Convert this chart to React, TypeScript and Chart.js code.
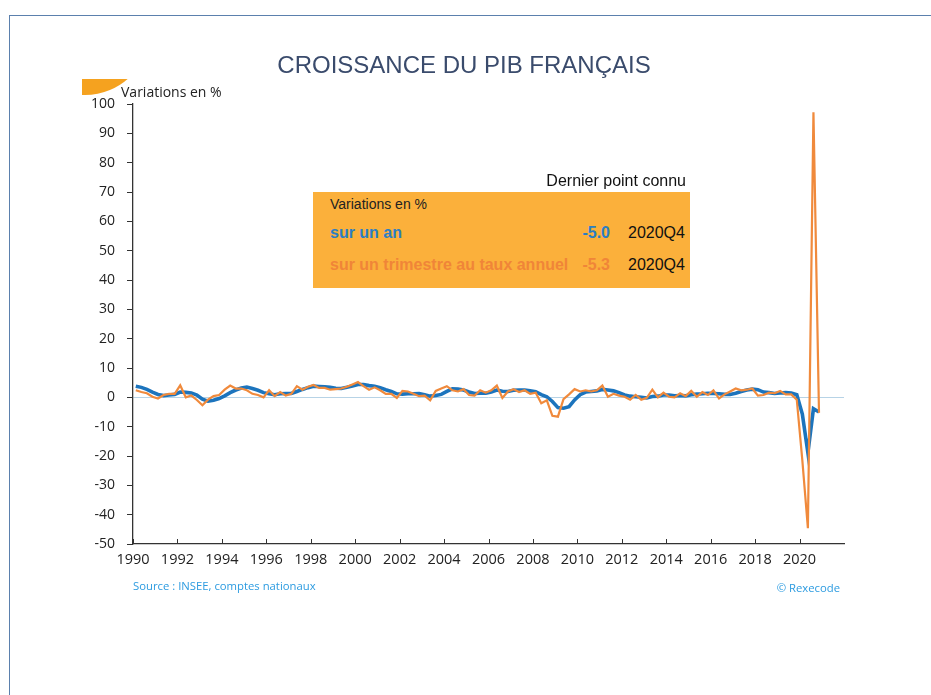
import { useEffect, useRef } from 'react';
import { Chart, registerables } from 'chart.js';

Chart.register(...registerables);

// Quarters 1990Q1 .. 2020Q4
const firstYear = 1990;
const lastYear = 2020;
const quarterLabels: string[] = [];
for (let y = firstYear; y <= lastYear; y++) {
  for (let q = 1; q <= 4; q++) quarterLabels.push(`${y}Q${q}`);
}

// Croissance sur un an (%)
const yoyGrowth = [
  3.8, 3.4, 2.7, 1.8, // 1990
  1.0, 0.6, 0.8, 1.0, // 1991
  1.8, 1.7, 1.5, 0.8, // 1992
  -0.6, -1.3, -1.0, -0.4, // 1993
  0.5, 1.6, 2.5, 3.2, // 1994
  3.5, 3.0, 2.4, 1.6, // 1995
  1.2, 0.9, 1.2, 1.3, // 1996
  1.3, 2.0, 2.7, 3.3, // 1997
  3.8, 3.7, 3.6, 3.4, // 1998
  3.1, 3.0, 3.4, 3.9, // 1999
  4.4, 4.4, 4.0, 3.8, // 2000
  3.3, 2.6, 2.0, 1.2, // 2001
  1.1, 1.2, 1.2, 1.3, // 2002
  0.9, 0.4, 0.6, 1.0, // 2003
  2.0, 2.9, 2.8, 2.5, // 2004
  1.8, 1.3, 1.4, 1.4, // 2005
  1.8, 2.5, 2.1, 2.0, // 2006
  2.4, 2.5, 2.5, 2.2, // 2007
  1.9, 0.9, 0.2, -1.4, // 2008
  -3.5, -3.7, -3.2, -0.9, // 2009
  0.9, 1.8, 2.0, 2.2, // 2010
  2.7, 2.5, 2.2, 1.6, // 2011
  0.8, 0.4, 0.2, 0.0, // 2012
  -0.2, 0.3, 0.4, 0.8, // 2013
  0.8, 0.5, 0.6, 0.5, // 2014
  0.9, 1.1, 1.2, 1.4, // 2015
  1.3, 1.2, 1.0, 1.0, // 2016
  1.4, 2.0, 2.5, 2.8, // 2017
  2.6, 1.8, 1.6, 1.3, // 2018
  1.5, 1.6, 1.5, 0.9, // 2019
  -5.7, -18.9, -3.9, -5.0, // 2020
];

// Croissance sur un trimestre au taux annuel (%)
const qoqAnnualized = [
  2.4, 1.8, 1.4, 0.2, // 1990
  -0.4, 0.8, 1.2, 1.2, // 1991
  4.1, 0.0, 0.6, -0.9, // 1992
  -2.7, -0.8, 0.4, 0.8, // 1993
  2.6, 4.0, 3.0, 3.0, // 1994
  2.4, 1.2, 0.8, 0.0, // 1995
  2.4, 0.4, 1.8, 0.6, // 1996
  1.2, 3.8, 2.6, 3.6, // 1997
  4.2, 3.2, 3.2, 2.6, // 1998
  2.8, 3.0, 3.6, 4.4, // 1999
  5.2, 3.8, 2.6, 3.4, // 2000
  2.4, 1.2, 1.2, -0.2, // 2001
  2.2, 2.0, 1.2, 0.4, // 2002
  0.6, -1.0, 2.2, 3.0, // 2003
  3.8, 2.4, 2.0, 2.8, // 2004
  0.8, 0.6, 2.4, 1.6, // 2005
  2.4, 4.0, -0.2, 2.0, // 2006
  2.8, 1.8, 2.4, 1.2, // 2007
  1.6, -2.0, -1.0, -6.3, // 2008
  -6.6, -0.6, 1.0, 2.8, // 2009
  2.0, 2.4, 2.0, 2.4, // 2010
  4.0, 0.2, 1.2, 0.6, // 2011
  0.2, -0.8, 0.8, -0.8, // 2012
  -0.2, 2.6, 0.0, 1.6, // 2013
  0.2, 0.0, 1.4, 0.4, // 2014
  2.2, 0.2, 1.8, 0.8, // 2015
  2.4, -0.4, 1.0, 2.0, // 2016
  3.0, 2.4, 2.6, 3.0, // 2017
  0.6, 0.8, 1.6, 1.4, // 2018
  2.2, 1.0, 1.0, -0.8, // 2019
  -21.5, -44.6, 97.2, -5.3, // 2020
];

const xTickYears = [1990, 1992, 1994, 1996, 1998, 2000, 2002, 2004, 2006, 2008, 2010, 2012, 2014, 2016, 2018, 2020];

// quarter label -> position on the time axis (middle of the quarter)
const quarterToX = (label: string) => {
  const [y, q] = label.split('Q').map(Number);
  return y + (q - 0.5) / 4;
};

const AXIS_FONT = '"Open Sans", "DejaVu Sans", sans-serif';
const TEXT_FONT = '"Liberation Sans", Arial, sans-serif';
const BLUE = '#1c74bd';
const ORANGE = '#f08a3c';

export default function App() {
  const canvasRef = useRef<HTMLCanvasElement>(null);

  useEffect(() => {
    const canvas = canvasRef.current;
    if (!canvas) return;

    const upTicks = {
      id: 'upTicks',
      afterDraw(chart: any) {
        const xs = chart.scales.x;
        const c = chart.ctx;
        c.save();
        c.strokeStyle = '#333';
        c.lineWidth = 1;
        xs.ticks.forEach((t: any) => {
          const px = Math.round(xs.getPixelForValue(t.value)) + 0.5;
          c.beginPath();
          c.moveTo(px, xs.top);
          c.lineTo(px, xs.top - 5);
          c.stroke();
        });
        c.restore();
      },
    };

    const chart = new Chart(canvas, {
      type: 'line',
      data: {
        datasets: [
          {
            label: 'sur un trimestre au taux annuel',
            data: quarterLabels.map((l, i) => ({ x: quarterToX(l), y: qoqAnnualized[i] })),
            borderColor: ORANGE,
            borderWidth: 2.2,
            pointRadius: 0,
            tension: 0,
          },
          {
            label: 'sur un an',
            data: quarterLabels.map((l, i) => ({ x: quarterToX(l), y: yoyGrowth[i] })),
            borderColor: BLUE,
            borderWidth: 3.6,
            pointRadius: 0,
            tension: 0,
          },
        ],
      },
      options: {
        responsive: false,
        animation: false,
        events: [],
        layout: { padding: { left: 0, right: 931 - 844, top: 104, bottom: 0 } },
        plugins: {
          legend: { display: false },
          tooltip: { enabled: false },
          title: { display: false },
        },
        scales: {
          x: {
            type: 'linear',
            min: 1990,
            max: 2022,
            afterBuildTicks: (s: any) => {
              s.ticks = xTickYears.map((v) => ({ value: v }));
            },
            afterFit: (s: any) => {
              s.height = 695 - 544;
            },
            grid: { drawOnChartArea: false, drawTicks: false },
            border: { color: '#333', width: 1.3 },
            ticks: {
              padding: 7,
              color: '#222',
              font: { family: AXIS_FONT, size: 14.5 },
              maxRotation: 0,
              autoSkip: false,
              callback: (v: any) => String(v),
            },
          },
          y: {
            min: -50,
            max: 100,
            afterFit: (s: any) => {
              s.width = 133;
            },
            grid: {
              color: (ctx: any) => (ctx.tick && ctx.tick.value === 0 ? '#b7d3e6' : 'rgba(0,0,0,0)'),
              tickColor: '#333',
              tickLength: 6,
              lineWidth: 1,
            },
            border: { color: '#333', width: 1.3 },
            ticks: {
              stepSize: 10,
              padding: 12,
              color: '#222',
              font: { family: AXIS_FONT, size: 14 },
              callback: (v: any) => String(v),
            },
          },
        },
      },
      plugins: [upTicks],
    });

    return () => chart.destroy();
  }, []);

  const abs = (s: React.CSSProperties): React.CSSProperties => ({ position: 'absolute', lineHeight: 1, whiteSpace: 'nowrap', ...s });

  return (
    <div style={{ position: 'fixed', left: 0, top: 0, width: 931, height: 695, background: '#fff', overflow: 'hidden' }}>
      <div style={{ position: 'absolute', left: 9, top: 15, right: 0, height: 0, borderTop: '1.5px solid #5b80ad' }} />
      <div style={{ position: 'absolute', left: 9, top: 15, bottom: 0, width: 0, borderLeft: '1.5px solid #5b80ad' }} />

      <div style={{ position: 'absolute', left: 82, top: 79, width: 46, height: 16, overflow: 'hidden' }}>
        <div style={{ position: 'absolute', left: -62, top: -114, width: 130, height: 130, borderRadius: '50%', background: '#f5a21f' }} />
      </div>

      <canvas ref={canvasRef} width={931} height={695} style={{ position: 'absolute', left: 0, top: 0, width: 931, height: 695 }} />

      <div style={abs({ left: 0, width: 928, top: 53, textAlign: 'center', fontFamily: TEXT_FONT, fontSize: 24, color: '#3a4b6c' })}>
        CROISSANCE DU PIB FRANÇAIS
      </div>

      <div style={abs({ left: 121, top: 85, fontFamily: AXIS_FONT, fontSize: 14, color: '#222' })}>Variations en %</div>

      <div style={abs({ left: 480, width: 206, top: 173, textAlign: 'right', fontFamily: TEXT_FONT, fontSize: 16, color: '#111' })}>
        Dernier point connu
      </div>
      <div style={{ position: 'absolute', left: 313, top: 192, width: 377, height: 96, background: '#fbb03b' }} />
      <div style={abs({ left: 330, top: 197, fontFamily: TEXT_FONT, fontSize: 14, color: '#222' })}>Variations en %</div>
      <div style={abs({ left: 330, top: 225, fontFamily: TEXT_FONT, fontSize: 16, fontWeight: 'bold', color: '#2a7ec4' })}>sur un an</div>
      <div style={abs({ left: 540, width: 70, top: 225, textAlign: 'right', fontFamily: TEXT_FONT, fontSize: 16, fontWeight: 'bold', color: '#2a7ec4' })}>-5.0</div>
      <div style={abs({ left: 628, top: 225, fontFamily: TEXT_FONT, fontSize: 16, color: '#111' })}>2020Q4</div>
      <div style={abs({ left: 330, top: 257, fontFamily: TEXT_FONT, fontSize: 16, fontWeight: 'bold', color: '#f08538' })}>
        sur un trimestre au taux annuel
      </div>
      <div style={abs({ left: 540, width: 70, top: 257, textAlign: 'right', fontFamily: TEXT_FONT, fontSize: 16, fontWeight: 'bold', color: '#f08538' })}>-5.3</div>
      <div style={abs({ left: 628, top: 257, fontFamily: TEXT_FONT, fontSize: 16, color: '#111' })}>2020Q4</div>

      <div style={abs({ left: 133, top: 579.5, fontFamily: AXIS_FONT, fontSize: 11.3, color: '#2c9be0' })}>Source : INSEE, comptes nationaux</div>
      <div style={abs({ left: 640, width: 200, top: 582, textAlign: 'right', fontFamily: AXIS_FONT, fontSize: 11.3, color: '#2c9be0' })}>© Rexecode</div>
    </div>
  );
}
